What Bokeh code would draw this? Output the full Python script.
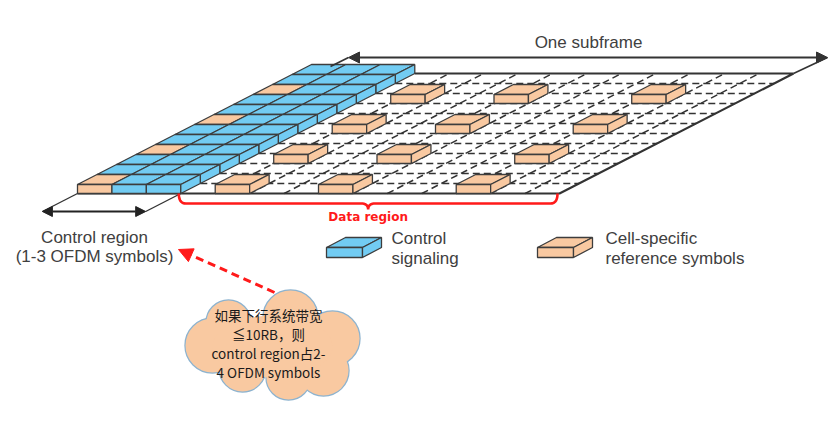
import numpy as np
from bokeh.plotting import figure
from bokeh.models import Range1d, Arrow, NormalHead
from bokeh.core.properties import value
from bokeh.embed import file_html
from bokeh.resources import INLINE

# one subframe = 14 OFDM symbols x 12 subcarriers (one resource block)
n_symbols = 14
n_subcarriers = 12
control_symbols = 3
# cell-specific reference symbols: OFDM symbol index and subcarrier index
rs_symbols = [0, 4, 7, 11]
rs_subcarriers = [0, 3, 6, 9]

subframe_label = "One subframe"
control_label = ["Control region", "(1-3 OFDM symbols)"]
data_label = "Data region"
legend_control = ["Control", "signaling"]
legend_rs = ["Cell-specific", "reference symbols"]
note_lines = ["如果下行系统带宽", "≦10RB，则", "control region占2-", "4 OFDM symbols"]

BLUE = "#72CCF3"
PEACH = "#F9C9A1"
EDGE = "#3d3d3d"
TEXT = "#404040"
RED = "#FF1A1A"
FONT = "Liberation Sans"

# page-pixel geometry of the slanted grid
X0, Y0 = 77, 193      # front-left corner of the grid base
CW = 482 / n_symbols  # cell width
RD = 120 / n_subcarriers  # depth of one row
SH = 19.5             # x shift per row (slant)
BH = 9                # height of a raised box


def base(c, r):
    return X0 + c * CW + r * SH, Y0 - r * RD


def box(x, y, w, d, s, h):
    top = [(x, y - h), (x + w, y - h), (x + w + s, y - d - h), (x + s, y - d - h)]
    front = [(x, y), (x + w, y), (x + w, y - h), (x, y - h)]
    side = [(x + w, y), (x + w + s, y - d), (x + w + s, y - d - h), (x + w, y - h)]
    return top, front, side


p = figure(width=831, height=416, x_range=Range1d(0, 831), y_range=Range1d(416, 0),
           output_backend="svg", toolbar_location=None, min_border=0,
           x_axis_location=None, y_axis_location=None)
p.grid.visible = False
p.outline_line_color = None
p.background_fill_color = "white"

# data region: dashed grid
xs, ys = [], []
for r in range(1, n_subcarriers):
    (ax, ay), (bx, by) = base(control_symbols, r), base(n_symbols, r)
    xs.append([ax, bx]); ys.append([ay, by])
for c in range(control_symbols + 1, n_symbols):
    (ax, ay), (bx, by) = base(c, 0), base(c, n_subcarriers)
    xs.append([ax, bx]); ys.append([ay, by])
p.multi_line(xs, ys, line_color="#333333", line_width=1.5, line_dash="7 4")

# solid outline of the plane
corners = [base(control_symbols, n_subcarriers), base(n_symbols, n_subcarriers),
           base(n_symbols, 0), base(control_symbols, 0)]
p.line([q[0] for q in corners], [q[1] for q in corners], line_color="#333333", line_width=2.2)
p.line([base(0, 0)[0], base(control_symbols, 0)[0]], [Y0, Y0], line_color="#333333", line_width=2.2)

# raised boxes
polys, colors = [], []
for r in sorted(rs_subcarriers, reverse=True):
    for c in rs_symbols:
        if c < control_symbols:
            continue
        x, y = base(c, r)
        for f in box(x, y, CW, RD, SH, BH):
            polys.append(f); colors.append(PEACH)
for r in range(n_subcarriers - 1, -1, -1):
    for c in range(control_symbols):
        x, y = base(c, r)
        col = PEACH if (c in rs_symbols and r in rs_subcarriers) else BLUE
        top, front, side = box(x, y, CW, RD, SH, BH)
        polys.append(top); colors.append(col)
        if r == 0:
            polys.append(front); colors.append(col)
        if c == control_symbols - 1:
            polys.append(side); colors.append(col)

# legend icons
for lx, col in [(326, BLUE), (537, PEACH)]:
    for f in box(lx, 257, 36, 10, 19, 10):
        polys.append(f); colors.append(col)

p.patches([[q[0] for q in f] for f in polys], [[q[1] for q in f] for f in polys],
          fill_color=colors, line_color=EDGE, line_width=1.3)

# subframe arrow
p.line([330, 348], [66, 57], line_color="#333333", line_width=1.6)
tx, ty = base(n_symbols, n_subcarriers)
p.line([tx, 827], [ty, 57], line_color="#333333", line_width=1.6)
p.add_layout(Arrow(x_start=348, y_start=57, x_end=827, y_end=57, line_width=2.2, line_color="#333333",
                   start=NormalHead(size=11, fill_color="#333333", line_color="#333333"),
                   end=NormalHead(size=11, fill_color="#333333", line_color="#333333")))

# control region arrow
ay = 211
lx0, ly0 = base(0, 0)
rx0, ry0 = base(control_symbols, 0)
la = lx0 - (ay - ly0) * SH / RD
ra = rx0 - (ay - ry0) * SH / RD
p.line([lx0, la], [ly0, ay], line_color="#333333", line_width=1.4)
p.line([rx0, ra], [ry0, ay], line_color="#333333", line_width=1.4)
p.add_layout(Arrow(x_start=la, y_start=ay, x_end=ra, y_end=ay, line_width=2.2, line_color="#222222",
                   start=NormalHead(size=10, fill_color="#222222", line_color="#222222"),
                   end=NormalHead(size=10, fill_color="#222222", line_color="#222222")))


# data region brace
def qbez(p0, c, p1, n=10):
    t = np.linspace(0, 1, n)[:, None]
    return (1 - t) ** 2 * np.array(p0) + 2 * (1 - t) * t * np.array(c) + t ** 2 * np.array(p1)


bl = rx0 - 2
br = base(n_symbols, 0)[0] - 2
bm = (bl + br) / 2
yb = 203
path = np.vstack([
    qbez((bl, 193), (bl, yb), (bl + 7, yb)),
    qbez((bm - 7, yb), (bm, yb), (bm, yb + 6)),
    qbez((bm, yb + 6), (bm, yb), (bm + 7, yb)),
    qbez((br - 7, yb), (br, yb), (br, 193)),
])
p.line(path[:, 0], path[:, 1], line_color=RED, line_width=2.6)
p.text([bm], [216], text=[data_label], text_font=value("DejaVu Sans"), text_font_style="bold",
       text_font_size="12px", text_color=RED, text_align="center", text_baseline="alphabetic")

# labels
p.text([588], [42], text=[subframe_label], text_font=value(FONT), text_font_size="17px",
       text_color=TEXT, text_align="center", text_baseline="alphabetic")
p.text([94, 94], [237, 256], text=control_label, text_font=value(FONT), text_font_size="17px",
       text_color=TEXT, text_align="center", text_baseline="alphabetic")
p.text([391, 391], [238, 258], text=legend_control, text_font=value(FONT), text_font_size="17px",
       text_color=TEXT, text_align="left", text_baseline="alphabetic")
p.text([605, 605], [238, 258], text=legend_rs, text_font=value(FONT), text_font_size="17px",
       text_color=TEXT, text_align="left", text_baseline="alphabetic")

# note cloud
lobes_x = [228, 290, 332, 323, 288, 242, 212]
lobes_y = [322, 317, 338, 370, 377, 368, 345]
lobes_r = [22, 27, 27, 25, 22, 23, 27]
p.circle(lobes_x, lobes_y, radius=lobes_r, fill_color=PEACH, line_color="#8DB3CF", line_width=2.4)
p.circle(lobes_x, lobes_y, radius=lobes_r, fill_color=PEACH, line_color=None)
p.ellipse([272], [346], width=[120], height=[62], fill_color=PEACH, line_color=None)
p.text([268] * 4, [314, 333, 352, 371], text=note_lines, text_font=value("Noto Sans CJK SC"),
       text_font_size="13.5px", text_color="#1a1a1a", text_align="center", text_baseline="middle")

# pointer from the note to the control region label
p.add_layout(Arrow(x_start=274, y_start=292, x_end=178, y_end=249, line_width=3, line_color=RED,
                   line_dash="8 5", start=None,
                   end=NormalHead(size=14, fill_color=RED, line_color=RED)))

open("out.html", "w").write(file_html(p, INLINE))
